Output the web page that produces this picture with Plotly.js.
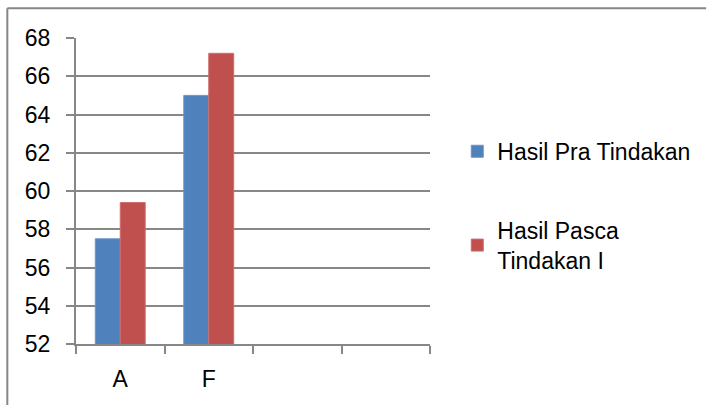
<!DOCTYPE html>
<html>
<head>
<meta charset="utf-8">
<script src="https://cdn.plot.ly/plotly-3.0.1.min.js"></script>
<style>
  html, body { margin: 0; padding: 0; background: #fff; }
  #chart { width: 707px; height: 405px; }
</style>
</head>
<body>
<div id="chart"></div>
<script>
const categories = ['A', 'F'];
const allCategories = ['A', 'F', ' ', '  '];
const seriesNames = ['Hasil Pra Tindakan', 'Hasil Pasca<br>Tindakan I'];
const praValues = [57.5, 65];
const pascaValues = [59.4, 67.2];
const yTicks = [52, 54, 56, 58, 60, 62, 64, 66, 68];

const gridColor = '#878787';
const fontSpec = { family: 'Liberation Sans, Arial, sans-serif', size: 23, color: '#000' };

const traces = [
  {
    type: 'bar', name: seriesNames[0], x: categories, y: praValues,
    marker: { color: '#4F81BD', line: { color: '#6b95c8', width: 1 } },
    legendgroup: 'g1', hoverinfo: 'skip'
  },
  {
    type: 'bar', name: seriesNames[1], x: categories, y: pascaValues,
    marker: { color: '#C0504D', line: { color: '#cd6e6b', width: 1 } },
    legendgroup: 'g2', hoverinfo: 'skip'
  }
];

const layout = {
  width: 707, height: 405,
  margin: { l: 76, r: 276, t: 38, b: 61, pad: 0 },
  paper_bgcolor: '#fff', plot_bgcolor: '#fff',
  font: fontSpec,
  barmode: 'group',
  bargap: 0.436,
  bargroupgap: 0,
  showlegend: true,
  legend: {
    x: 1.074, xanchor: 'left', y: 0.70, yanchor: 'top',
    font: fontSpec, tracegroupgap: 46, bgcolor: 'rgba(0,0,0,0)'
  },
  xaxis: {
    type: 'category', categoryorder: 'array', categoryarray: allCategories,
    range: [-0.5, allCategories.length - 0.5],
    tickson: 'boundaries', ticks: 'outside', ticklen: 8, tickwidth: 2, tickcolor: gridColor,
    showline: true, linecolor: gridColor, linewidth: 2,
    showgrid: false, zeroline: false, fixedrange: true,
    ticklabelstandoff: 13, tickfont: fontSpec
  },
  yaxis: {
    range: [yTicks[0], yTicks[yTicks.length - 1]],
    tickvals: yTicks, ticktext: yTicks.map(String),
    ticks: 'outside', ticklen: 8, tickwidth: 2, tickcolor: gridColor,
    showline: true, linecolor: gridColor, linewidth: 2,
    showgrid: true, gridcolor: gridColor, gridwidth: 2,
    zeroline: false, fixedrange: true,
    ticklabelstandoff: 11, tickfont: fontSpec
  },
  shapes: [
    { type: 'line', xref: 'paper', yref: 'paper', x0: -0.194, x1: 1.78, y0: 1.097, y1: 1.097,
      line: { color: gridColor, width: 2 } },
    { type: 'line', xref: 'paper', yref: 'paper', x0: -0.194, x1: -0.194, y0: 1.097, y1: -0.21,
      line: { color: gridColor, width: 2 } }
  ]
};

Plotly.newPlot('chart', traces, layout, { staticPlot: true, displayModeBar: false });
</script>
</body>
</html>
